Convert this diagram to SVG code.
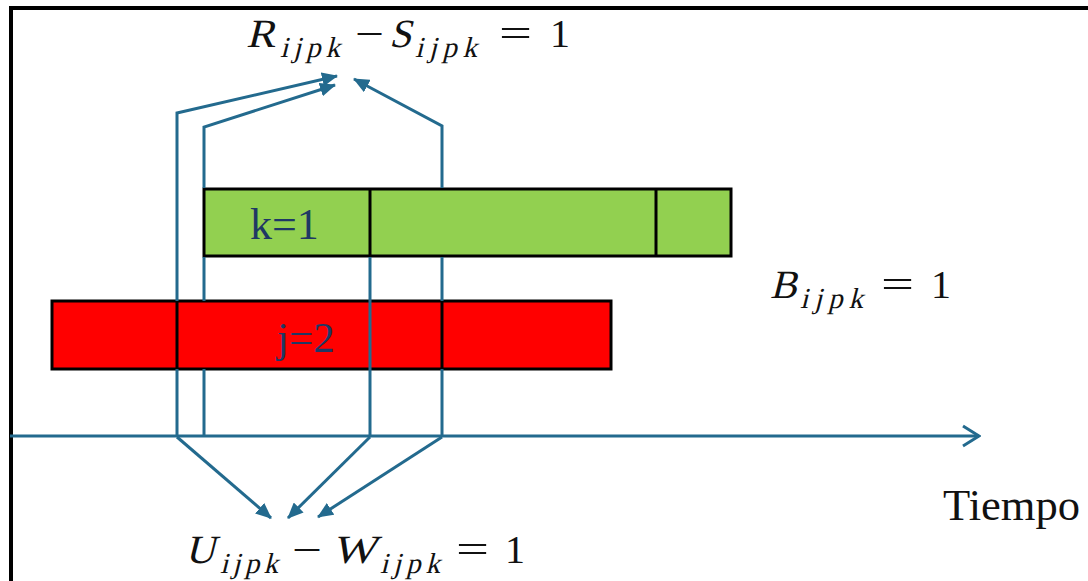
<svg xmlns="http://www.w3.org/2000/svg" width="1088" height="581" viewBox="0 0 1088 581">
  <defs>
    <marker id="tri" markerUnits="userSpaceOnUse" markerWidth="16" markerHeight="14" viewBox="0 0 16 14" refX="15" refY="7" orient="auto">
      <path d="M0,0 L16,7 L0,14 Z" fill="#236a8e"/>
    </marker>
    <marker id="chev" markerUnits="userSpaceOnUse" markerWidth="20" markerHeight="24" viewBox="0 0 20 24" refX="18" refY="12" orient="auto">
      <path d="M2,2 L18,12 L2,22" fill="none" stroke="#236a8e" stroke-width="3"/>
    </marker>
    <style>
      .ln { fill: none; stroke: #236a8e; stroke-width: 3; }
      .box { stroke: #000; stroke-width: 3; }
      .div { stroke: #000; stroke-width: 3; }
      .lbl { font-family: "Liberation Serif", "Times New Roman", serif; fill: #1F3864; }
      .mi { font-family: "Liberation Serif", "Times New Roman", serif; font-style: normal; fill: #111; font-size: 40px; }
      .ms { font-family: "Liberation Serif", "Times New Roman", serif; font-style: normal; fill: #111; font-size: 29px; }
      .mo { font-family: "Liberation Serif", "Times New Roman", serif; fill: #111; font-size: 40px; }
      .tx { font-family: "Liberation Serif", "Times New Roman", serif; fill: #111; }
    </style>
  </defs>
  <rect id="frame" x="11" y="8" width="1090" height="590" fill="none" stroke="#000" stroke-width="4"/>

  <g id="box-j2">
    <rect class="box" x="52" y="301" width="559" height="68" fill="#FF0000"/>
    <line class="div" x1="177" y1="301" x2="177" y2="369"/>
    <line class="div" x1="442" y1="301" x2="442" y2="369"/>
    <text class="lbl" x="277" y="352" font-size="43">j=2</text>
  </g>

  <g id="box-k1">
    <rect class="box" x="204" y="189" width="527" height="67" fill="#92D050"/>
    <line class="div" x1="370" y1="189" x2="370" y2="256"/>
    <line class="div" x1="656" y1="189" x2="656" y2="256"/>
    <text class="lbl" x="250" y="239" font-size="44">k=1</text>
  </g>

  <g id="connectors">
    <path class="ln" d="M10,436 L979,436" marker-end="url(#chev)"/>
    <path class="ln" d="M177,437 V369 M177,301 V113 L337,76" marker-end="url(#tri)"/>
    <path class="ln" d="M204,437 V369 M204,301 V257 M204,188 V127 L335,85" marker-end="url(#tri)"/>
    <path class="ln" d="M442,437 V369 M442,301 V257 M442,188 V126 L354,79" marker-end="url(#tri)"/>
    <path class="ln" d="M370,437 V257"/>
    <path class="ln" d="M177,437 L271,518" marker-end="url(#tri)"/>
    <path class="ln" d="M370,437 L288,518" marker-end="url(#tri)"/>
    <path class="ln" d="M442,437 L318,517" marker-end="url(#tri)"/>
  </g>

  <g id="label-RS">
    <text class="mi" transform="translate(246,47) skewX(-14)" textLength="29" lengthAdjust="spacingAndGlyphs">R</text>
    <text class="ms" transform="translate(280,57) skewX(-14)" textLength="60" lengthAdjust="spacing">ijpk</text>
    <text class="mo" x="355" y="47" textLength="29" lengthAdjust="spacingAndGlyphs">−</text>
    <text class="mi" transform="translate(389,47) skewX(-14)">S</text>
    <text class="ms" transform="translate(415,57) skewX(-14)" textLength="62" lengthAdjust="spacing">ijpk</text>
    <text class="mo" x="499" y="47" textLength="33" lengthAdjust="spacingAndGlyphs">=</text>
    <text class="mo" x="550" y="47">1</text>
  </g>

  <g id="label-UW">
    <text class="mi" transform="translate(185,563) skewX(-14)" textLength="30" lengthAdjust="spacingAndGlyphs">U</text>
    <text class="ms" transform="translate(220,573) skewX(-14)" textLength="58" lengthAdjust="spacing">ijpk</text>
    <text class="mo" x="292" y="563" textLength="30" lengthAdjust="spacingAndGlyphs">−</text>
    <text class="mi" transform="translate(332,563) skewX(-14)" textLength="44" lengthAdjust="spacingAndGlyphs">W</text>
    <text class="ms" transform="translate(380,573) skewX(-14)" textLength="60" lengthAdjust="spacing">ijpk</text>
    <text class="mo" x="456" y="563" textLength="33" lengthAdjust="spacingAndGlyphs">=</text>
    <text class="mo" x="505" y="563">1</text>
  </g>

  <g id="label-B">
    <text class="mi" transform="translate(770,298) skewX(-14)">B</text>
    <text class="ms" transform="translate(800,308) skewX(-14)" textLength="63" lengthAdjust="spacing">ijpk</text>
    <text class="mo" x="881" y="298" textLength="33" lengthAdjust="spacingAndGlyphs">=</text>
    <text class="mo" x="931" y="298">1</text>
  </g>

  <g id="label-tiempo">
    <text class="tx" x="943" y="520" font-size="44" textLength="137" lengthAdjust="spacingAndGlyphs">Tiempo</text>
  </g>
</svg>
